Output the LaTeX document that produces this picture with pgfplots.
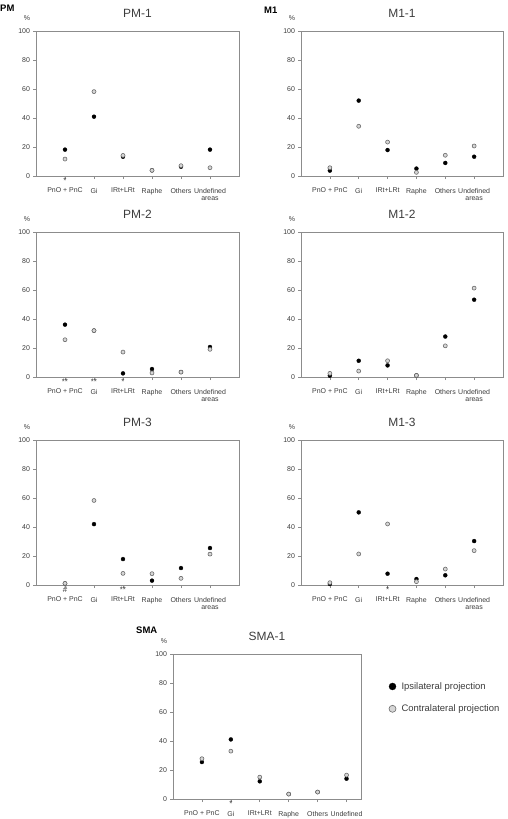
\documentclass[border=0pt]{standalone}
\usepackage{fontspec}
\setmainfont{Liberation Sans}
\usepackage{pgfplots}
\pgfplotsset{compat=1.18}

\definecolor{axisgray}{HTML}{8C8C8C}
\definecolor{labelgray}{HTML}{3C3C3C}
\definecolor{contrafill}{HTML}{D6D6D6}
\definecolor{contradraw}{HTML}{6A6A6A}

\pgfplotsset{
  panel/.style={
    scale only axis,
    width=203bp, height=145bp,
    xmin=-1, xmax=6, ymin=0, ymax=100,
    xtick={0,...,5}, ytick={0,20,...,100},
    xticklabels={PnO + PnC, Gi, IRt+LRt, Raphe, Others, {Undefined\\areas}},
    xtick pos=left, ytick pos=left,
    tick align=outside,
    major tick length=3bp,
    /pgf/number format/assume math mode=true,
    axis line style={draw=axisgray, line width=0.6bp},
    every tick/.style={draw=axisgray, line width=0.6bp},
    tick label style={font=\fontsize{7}{7.6}\selectfont, text=labelgray},
    yticklabel style={xshift=0.5bp},
    xticklabel style={align=center, yshift=-5.5bp},
    title style={font=\fontsize{12}{14}\selectfont, text=labelgray,
                 at={(0.5,1)}, anchor=base, yshift=8bp},
    clip=false,
  },
  ipsi/.style={only marks, mark=*, mark size=2bp,
               mark options={fill=black, draw=black, line width=0.3bp}},
  contra/.style={only marks, mark=*, mark size=2bp,
                 mark options={fill=contrafill, draw=contradraw, line width=0.6bp}},
  pct/.style={extra description/.code={
    \node[font=\fontsize{7}{8}\selectfont, text=labelgray]
      at (rel axis cs:0,1) [xshift=-9bp, yshift=13bp] {\%};}},
}

% significance marker below a category tick
\newcommand{\sig}[2]{\node[font=\fontsize{8}{8}\selectfont, text=labelgray,
  anchor=north, inner sep=0pt, yshift=-2bp] at (axis cs:#1,0) {#2};}

\begin{document}
\begin{tikzpicture}
\path[use as bounding box] (0,0) rectangle (508bp,-819bp);

\node[font=\bfseries\fontsize{9.5}{11}\selectfont, anchor=west, inner sep=0pt] at (0bp,-8bp) {PM};
\node[font=\bfseries\fontsize{9.5}{11}\selectfont, anchor=west, inner sep=0pt] at (264bp,-10bp) {M1};
\node[font=\bfseries\fontsize{9.5}{11}\selectfont, anchor=west, inner sep=0pt] at (136bp,-630bp) {SMA};

% ---------- PM-1 ----------
\begin{axis}[panel, pct, title={PM-1}, at={(36bp,-176bp)}, anchor=south west]
\addplot[ipsi] coordinates {(0,18.2) (1,40.9) (2,13.3) (3,3.9) (4,6.4) (5,18.2)};
\addplot[contra] coordinates {(0,11.7) (1,58.2) (2,14.2) (3,3.9) (4,7.1) (5,5.7)};
\sig{0}{*}
\end{axis}

% ---------- M1-1 ----------
\begin{axis}[panel, pct, width=202bp, title={M1-1}, at={(301bp,-176bp)}, anchor=south west]
\addplot[ipsi] coordinates {(0,3.7) (1,52.0) (2,17.9) (3,5.1) (4,9.0) (5,13.3)};
\addplot[contra] coordinates {(0,5.7) (1,34.3) (2,23.4) (3,2.5) (4,14.3) (5,20.7)};
\end{axis}

% ---------- PM-2 ----------
\begin{axis}[panel, pct, title={PM-2}, at={(36bp,-377bp)}, anchor=south west]
\addplot[ipsi] coordinates {(0,36.1) (1,32.0) (2,2.5) (3,5.5) (4,3.4) (5,20.7)};
\addplot[contra] coordinates {(0,25.7) (1,32.0) (2,17.2) (3,2.8) (4,3.4) (5,19.1)};
\sig{0}{**}
\sig{1}{**}
\sig{2}{*}
\end{axis}

% ---------- M1-2 ----------
\begin{axis}[panel, pct, width=202bp, title={M1-2}, at={(301bp,-377bp)}, anchor=south west]
\addplot[ipsi] coordinates {(0,0.9) (1,11.2) (2,8.0) (3,1.1) (4,27.9) (5,53.3)};
\addplot[contra] coordinates {(0,2.5) (1,4.1) (2,11.2) (3,1.1) (4,21.5) (5,61.3)};
\end{axis}

% ---------- PM-3 ----------
\begin{axis}[panel, pct, title={PM-3}, at={(36bp,-585bp)}, anchor=south west]
\addplot[ipsi] coordinates {(0,1.1) (1,42.0) (2,17.9) (3,3.0) (4,11.7) (5,25.5)};
\addplot[contra] coordinates {(0,1.1) (1,58.3) (2,8.0) (3,7.8) (4,4.6) (5,21.3)};
\sig{0}{\#}
\sig{2}{**}
\end{axis}

% ---------- M1-3 ----------
\begin{axis}[panel, pct, width=202bp, title={M1-3}, at={(301bp,-585bp)}, anchor=south west]
\addplot[ipsi] coordinates {(0,0.7) (1,50.1) (2,7.8) (3,4.1) (4,6.7) (5,30.3)};
\addplot[contra] coordinates {(0,1.6) (1,21.4) (2,42.1) (3,2.3) (4,11.0) (5,23.7)};
\sig{2}{*}
\end{axis}

% ---------- SMA-1 ----------
\begin{axis}[panel, pct, width=188bp, xmax=5.5, title={SMA-1},
  xticklabels={PnO + PnC, Gi, IRt+LRt, Raphe, Others, Undefined},
  at={(173bp,-799bp)}, anchor=south west,
  legend style={at={(1.14,0.82)}, anchor=north west, draw=none, fill=none,
                font=\fontsize{9.5}{11}\selectfont, text=labelgray,
                row sep=10bp, inner sep=0pt},
  legend cell align=left,
  legend image code/.code={%
    \draw[#1, mark size=3.5bp] plot coordinates {(5bp,0bp)};
    \path[draw=none] (0bp,0bp) -- (12bp,0bp);}]
\addplot[ipsi] coordinates {(0,25.5) (1,41.1) (2,12.2) (3,3.4) (4,4.8) (5,14.0)};
\addlegendentry{Ipsilateral projection}
\addplot[contra] coordinates {(0,27.8) (1,33.0) (2,15.1) (3,3.4) (4,4.8) (5,16.5)};
\addlegendentry{Contralateral projection}
\sig{1}{*}
\end{axis}
\end{tikzpicture}
\end{document}
